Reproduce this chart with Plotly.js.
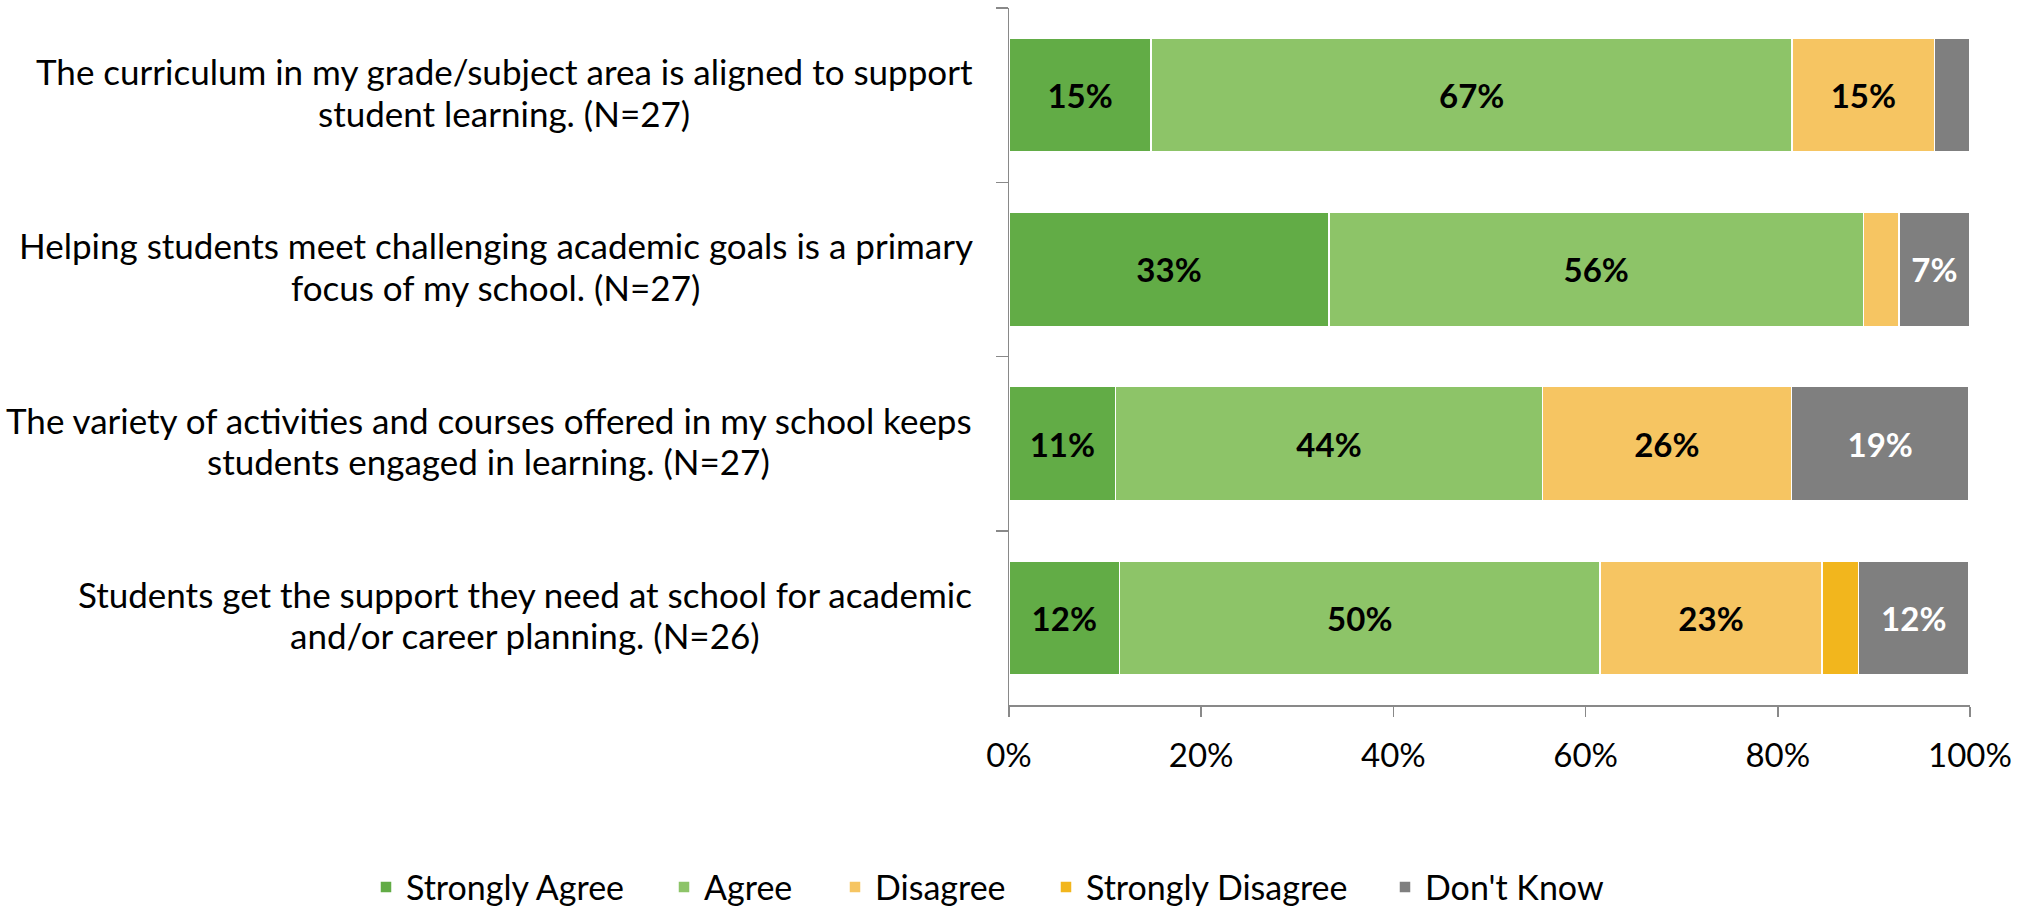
<!DOCTYPE html>
<html>
<head>
<meta charset="utf-8">
<script src="https://cdn.plot.ly/plotly-3.0.1.min.js"></script>
<style>
html, body { margin: 0; padding: 0; background: #ffffff; }
#chart { width: 2030px; height: 910px; }
</style>
</head>
<body>
<div id="chart"></div>
<script>
// Questions (top to bottom), one entry per wrapped line
const categoryLines = [
  ["The curriculum in my grade/subject area is aligned to support", "student learning. (N=27)"],
  ["Helping students meet challenging academic goals is a primary", "focus of my school. (N=27)"],
  ["The variety of activities and courses offered in my school keeps", "students engaged in learning. (N=27)"],
  ["Students get the support they need at school for academic", "and/or career planning. (N=26)"]
];
const categoryKeys = ["Q1", "Q2", "Q3", "Q4"];

// Percent of respondents per response option
const stronglyAgree    = [14.8, 33.3, 11.1, 11.5];
const agree            = [66.7, 55.6, 44.4, 50.0];
const disagree         = [14.8, 3.7, 25.9, 23.1];
const stronglyDisagree = [0.0, 0.0, 0.0, 3.8];
const dontKnow         = [3.7, 7.4, 18.5, 11.5];

const seriesNames = ["Strongly Agree", "Agree", "Disagree", "Strongly Disagree", "Don't Know"];
const seriesValues = [stronglyAgree, agree, disagree, stronglyDisagree, dontKnow];
const seriesColors = ["#62AC46", "#8DC468", "#F6C562", "#F2B61D", "#7F7F7F"];
const labelColors  = ["#000000", "#000000", "#000000", "#000000", "#FFFFFF"];

const xTickVals = [0, 20, 40, 60, 80, 100];
const xTickText = ["0%", "20%", "40%", "60%", "80%", "100%"];

const FONT = "Lato, 'Open Sans', 'DejaVu Sans', sans-serif";
const AXIS_GRAY = "#898989";
const LABEL_SIZE = 35;

// layout geometry (pixels)
const W = 2030, H = 910;
const M = { l: 1009, r: 60, t: 8, b: 205 };
const plotW = W - M.l - M.r;
const labelRight = 973;               // right edge of the category label block
const legendLefts = [366, 664, 835, 1046, 1385]; // left edge of each legend entry

const legendIds = ["legend", "legend2", "legend3", "legend4", "legend5"];

const traces = seriesNames.map((name, i) => ({
  type: "bar",
  orientation: "h",
  name: name,
  legend: legendIds[i],
  y: categoryKeys,
  x: seriesValues[i],
  text: seriesValues[i].map(v => v >= 5 ? Math.round(v) + "%" : ""),
  textposition: "inside",
  insidetextanchor: "middle",
  textangle: 0,
  insidetextfont: { family: FONT, size: 33, color: labelColors[i], weight: 700 },
  marker: { color: seriesColors[i], line: { color: "#FFFFFF", width: 1.5 } },
  hoverinfo: "skip"
}));

// measure label lines so that each two-line block is centred and right-aligned
const ctx = document.createElement("canvas").getContext("2d");
ctx.font = LABEL_SIZE + "px Lato";
const annotations = [];
categoryLines.forEach((lines, i) => {
  const blockW = Math.max(...lines.map(l => ctx.measureText(l).width));
  const centerPx = labelRight - blockW / 2;
  const xPaper = (centerPx - M.l) / plotW;
  const shifts = [24, -17.5];
  lines.forEach((line, j) => {
    annotations.push({
      xref: "paper",
      yref: "y",
      x: xPaper,
      y: categoryKeys[i],
      xanchor: "center",
      yanchor: "middle",
      yshift: shifts[j],
      showarrow: false,
      text: line,
      font: { family: FONT, size: LABEL_SIZE, color: "#000000" }
    });
  });
});

const legendBase = {
  orientation: "h",
  xanchor: "left",
  y: -0.22,
  yanchor: "top",
  bgcolor: "rgba(0,0,0,0)",
  font: { family: FONT, size: 34, color: "#000000" },
  itemclick: false,
  itemdoubleclick: false
};

const layout = {
  width: W,
  height: H,
  paper_bgcolor: "#FFFFFF",
  plot_bgcolor: "#FFFFFF",
  barmode: "stack",
  bargap: 0.345,
  margin: { l: M.l, r: M.r, t: M.t, b: M.b, pad: 0, autoexpand: false },
  font: { family: FONT, size: 33, color: "#000000" },
  showlegend: true,
  xaxis: {
    range: [0, 100],
    tickvals: xTickVals,
    ticktext: xTickText,
    showgrid: false,
    zeroline: false,
    showline: true,
    linecolor: AXIS_GRAY,
    linewidth: 1.5,
    ticks: "outside",
    ticklen: 10,
    tickwidth: 1.5,
    tickcolor: AXIS_GRAY,
    ticklabelstandoff: 11,
    tickfont: { family: FONT, size: 33, color: "#000000" },
    fixedrange: true
  },
  yaxis: {
    type: "category",
    categoryorder: "array",
    categoryarray: categoryKeys,
    range: [3.5, -0.5],
    showticklabels: false,
    showgrid: false,
    zeroline: false,
    showline: true,
    linecolor: AXIS_GRAY,
    linewidth: 1.5,
    ticks: "outside",
    tickson: "boundaries",
    ticklen: 12,
    tickwidth: 1.5,
    tickcolor: AXIS_GRAY,
    fixedrange: true
  },
  annotations: annotations
};
legendIds.forEach((id, i) => {
  layout[id] = Object.assign({}, legendBase, { x: (legendLefts[i] - M.l) / plotW });
});

Plotly.newPlot("chart", traces, layout, { displayModeBar: false, staticPlot: true });
</script>
</body>
</html>
